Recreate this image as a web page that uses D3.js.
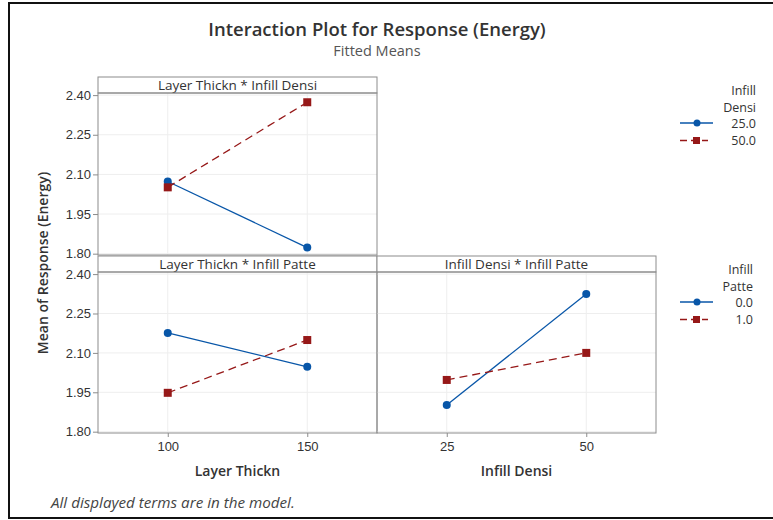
<!DOCTYPE html>
<html>
<head>
<meta charset="utf-8">
<script src="https://cdn.jsdelivr.net/npm/d3@7"></script>
<style>
  body { margin: 0; background: #fff; }
  svg { display: block; font-family: "Open Sans", "Noto Sans", sans-serif; }
</style>
</head>
<body>
<div id="chart"></div>
<script>
// factor levels
const layerThickn = [100, 150];
const infillDensi = [25, 50];
const densiLevels = ["25.0", "50.0"];
const patteLevels = ["0.0", "1.0"];
const yTicks = [1.80, 1.95, 2.10, 2.25, 2.40];

// fitted means, Layer Thickn * Infill Densi
const ltDensi25 = [2.073, 1.823];
const ltDensi50 = [2.051, 2.373];
// Layer Thickn * Infill Patte
const ltPatte0 = [2.176, 2.047];
const ltPatte1 = [1.948, 2.149];
// Infill Densi * Infill Patte
const idPatte0 = [1.902, 2.324];
const idPatte1 = [1.997, 2.100];

const W = 773, H = 520;
const blue = "#0856a8", red = "#961818", grey = "#8c8c8c", txt = "#333";

const svg = d3.select("#chart").append("svg")
  .attr("width", W).attr("height", H);

// outer frame
svg.append("rect")
  .attr("x", 9).attr("y", 3).attr("width", 780).attr("height", 515)
  .attr("fill", "none").attr("stroke", "#111").attr("stroke-width", 2);

svg.append("text").attr("x", 377).attr("y", 36).attr("text-anchor", "middle")
  .attr("font-size", 18.5).attr("font-weight", 600).attr("fill", txt)
  .text("Interaction Plot for Response (Energy)");
svg.append("text").attr("x", 377).attr("y", 56).attr("text-anchor", "middle")
  .attr("font-size", 14.5).attr("fill", "#555")
  .text("Fitted Means");

// scales
const xLT = d3.scaleLinear().domain([75, 175]).range([98, 377]);
const xID = d3.scaleLinear().domain([12.5, 62.5]).range([377, 656]);
const yTop = d3.scaleLinear().domain([1.795, 2.408]).range([255, 93]);
const yBot = d3.scaleLinear().domain([1.795, 2.408]).range([433, 272]);

const panels = [
  {title: "Layer Thickn * Infill Densi", x: xLT, y: yTop, xs: layerThickn,
   series: [ltDensi25, ltDensi50], yAxis: true, xAxis: false},
  {title: "Layer Thickn * Infill Patte", x: xLT, y: yBot, xs: layerThickn,
   series: [ltPatte0, ltPatte1], yAxis: true, xAxis: true},
  {title: "Infill Densi * Infill Patte", x: xID, y: yBot, xs: infillDensi,
   series: [idPatte0, idPatte1], yAxis: false, xAxis: true}
];

panels.forEach(p => {
  const [x0, x1] = p.x.range();
  const [yb, yt] = p.y.range();
  const g = svg.append("g");

  // gridlines
  g.selectAll(".gy").data(yTicks).enter().append("line")
    .attr("x1", x0).attr("x2", x1)
    .attr("y1", d => p.y(d)).attr("y2", d => p.y(d))
    .attr("stroke", "#eeeeee");
  g.selectAll(".gx").data(p.xs).enter().append("line")
    .attr("x1", d => p.x(d)).attr("x2", d => p.x(d))
    .attr("y1", yt).attr("y2", yb)
    .attr("stroke", "#eeeeee");

  // strip
  g.append("rect").attr("x", x0).attr("y", yt - 16).attr("width", x1 - x0).attr("height", 16)
    .attr("fill", "#fff").attr("stroke", grey);
  g.append("text").attr("x", (x0 + x1) / 2).attr("y", yt - 3.5).attr("text-anchor", "middle")
    .attr("font-size", 13.5).attr("fill", txt).text(p.title);

  // panel box
  g.append("rect").attr("x", x0).attr("y", yt).attr("width", x1 - x0).attr("height", yb - yt)
    .attr("fill", "none").attr("stroke", grey);

  if (p.yAxis) {
    const ax = g.append("g").attr("transform", `translate(${x0},0)`)
      .call(d3.axisLeft(p.y).tickValues(yTicks).tickFormat(d3.format(".2f")).tickSize(5).tickPadding(2));
    ax.select(".domain").remove();
    ax.selectAll("line").attr("stroke", grey);
    ax.selectAll("text").attr("font-size", 13).attr("fill", txt).style("font-family", "inherit");
  }
  if (p.xAxis) {
    const ax = g.append("g").attr("transform", `translate(0,${yb})`)
      .call(d3.axisBottom(p.x).tickValues(p.xs).tickFormat(d3.format("d")).tickSize(4).tickPadding(5));
    ax.select(".domain").remove();
    ax.selectAll("line").attr("stroke", grey);
    ax.selectAll("text").attr("font-size", 13).attr("fill", txt).style("font-family", "inherit");
  }

  const line = d3.line().x((d, i) => p.x(p.xs[i])).y(d => p.y(d));
  // blue solid, circles
  g.append("path").datum(p.series[0]).attr("d", line)
    .attr("fill", "none").attr("stroke", blue).attr("stroke-width", 1.3);
  // red dashed, squares
  g.append("path").datum(p.series[1]).attr("d", line)
    .attr("fill", "none").attr("stroke", red).attr("stroke-width", 1.3)
    .attr("stroke-dasharray", "8,5");
  g.selectAll(".c").data(p.series[0]).enter().append("circle")
    .attr("cx", (d, i) => p.x(p.xs[i])).attr("cy", d => p.y(d)).attr("r", 4)
    .attr("fill", blue);
  g.selectAll(".s").data(p.series[1]).enter().append("rect")
    .attr("x", (d, i) => p.x(p.xs[i]) - 4).attr("y", d => p.y(d) - 4)
    .attr("width", 8).attr("height", 8).attr("fill", red);
});

// axis titles
svg.append("text").attr("transform", "translate(48,263) rotate(-90)").attr("text-anchor", "middle")
  .attr("font-size", 14).attr("font-weight", 600).attr("fill", txt)
  .text("Mean of Response (Energy)");
svg.append("text").attr("x", xLT(125)).attr("y", 476).attr("text-anchor", "middle")
  .attr("font-size", 14).attr("font-weight", 600).attr("fill", txt).text("Layer Thickn");
svg.append("text").attr("x", xID(37.5)).attr("y", 476).attr("text-anchor", "middle")
  .attr("font-size", 14).attr("font-weight", 600).attr("fill", txt).text("Infill Densi");

// legends
function legend(top, title, levels, right) {
  const g = svg.append("g").attr("transform", `translate(0,${top})`);
  g.append("text").attr("x", right).attr("y", 0).attr("text-anchor", "end")
    .attr("font-size", 12.5).attr("fill", txt).text("Infill");
  g.append("text").attr("x", right).attr("y", 17).attr("text-anchor", "end")
    .attr("font-size", 12.5).attr("fill", txt).text(title);
  levels.forEach((lv, i) => {
    const cy = 28 + i * 17.5;
    const col = i === 0 ? blue : red;
    const ln = g.append("line").attr("x1", 680).attr("x2", i === 0 ? 713 : 708)
      .attr("y1", cy).attr("y2", cy).attr("stroke", col).attr("stroke-width", 1.3);
    if (i === 1) ln.attr("stroke-dasharray", "7,4");
    if (i === 0) g.append("circle").attr("cx", 697).attr("cy", cy).attr("r", 3.5).attr("fill", col);
    else g.append("rect").attr("x", 693).attr("y", cy - 3.5).attr("width", 7).attr("height", 7).attr("fill", col);
    g.append("text").attr("x", right).attr("y", cy + 4.5).attr("text-anchor", "end")
      .attr("font-size", 12.5).attr("fill", txt).text(lv);
  });
}
legend(95, "Densi", densiLevels, 756);
legend(274, "Patte", patteLevels, 753);

svg.append("text").attr("x", 51).attr("y", 508)
  .attr("font-size", 15.2).attr("font-style", "italic").attr("fill", "#444")
  .text("All displayed terms are in the model.");
</script>
</body>
</html>
